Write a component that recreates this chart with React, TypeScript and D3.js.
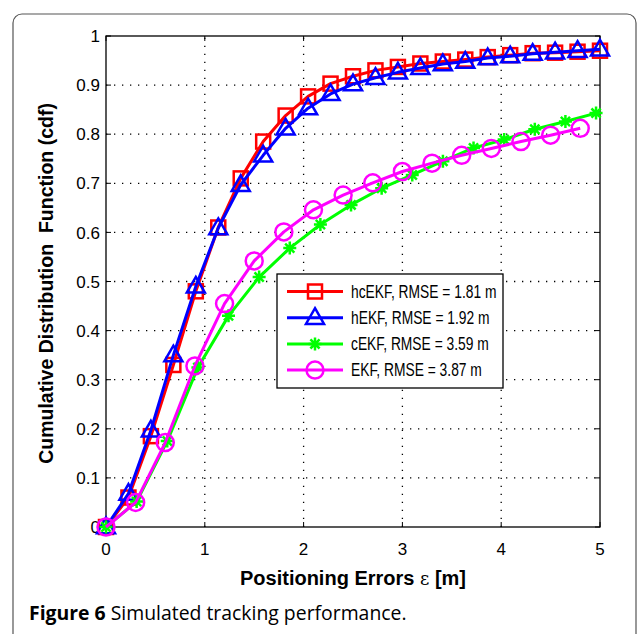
import React from 'react';
import * as d3 from 'd3';

// values
const redX = d3.range(23).map(i => (i * 5) / 22);
const hcEKF = [0, 0.06, 0.185, 0.33, 0.48, 0.61, 0.71, 0.785, 0.838, 0.877, 0.903, 0.918, 0.93, 0.937, 0.944, 0.948, 0.952, 0.957, 0.961, 0.965, 0.966, 0.968, 0.97];
const hEKF = [0, 0.068, 0.197, 0.35, 0.49, 0.609, 0.697, 0.757, 0.812, 0.853, 0.882, 0.902, 0.915, 0.926, 0.935, 0.943, 0.948, 0.955, 0.959, 0.964, 0.967, 0.97, 0.973];
const greenX = d3.range(17).map(i => i * 0.31);
const cEKF = [0, 0.052, 0.175, 0.325, 0.43, 0.509, 0.568, 0.616, 0.656, 0.69, 0.717, 0.745, 0.772, 0.789, 0.81, 0.826, 0.843];
const magentaX = d3.range(17).map(i => i * 0.3);
const EKF = [0, 0.05, 0.172, 0.328, 0.455, 0.542, 0.601, 0.646, 0.676, 0.701, 0.724, 0.741, 0.757, 0.771, 0.785, 0.798, 0.812];

const xTicks = [0, 1, 2, 3, 4, 5];
const yTicks = [0, 0.1, 0.2, 0.3, 0.4, 0.5, 0.6, 0.7, 0.8, 0.9, 1];
const legendLabels = ['hcEKF, RMSE = 1.81 m', 'hEKF, RMSE = 1.92 m', 'cEKF, RMSE = 3.59 m', 'EKF, RMSE = 3.87 m'];

const W = 637;
const H = 634;
const FONT = '"Liberation Sans", Arial, sans-serif';

const series = [
  { xs: redX, ys: hcEKF, color: '#ff0000', marker: 'square' },
  { xs: redX, ys: hEKF, color: '#0000ff', marker: 'triangle' },
  { xs: greenX, ys: cEKF, color: '#00ff00', marker: 'star' },
  { xs: magentaX, ys: EKF, color: '#ff00ff', marker: 'circle' },
];

function Marker({ type, x, y, color }: { type: string; x: number; y: number; color: string }) {
  if (type === 'square') {
    return <rect x={x - 7} y={y - 7} width={14} height={14} fill="none" stroke={color} strokeWidth={2.5} />;
  }
  if (type === 'triangle') {
    const r = 9.5;
    const pts = [[x, y - r], [x + r * 0.95, y + r * 0.65], [x - r * 0.95, y + r * 0.65]];
    return <polygon points={pts.map(p => p.join(',')).join(' ')} fill="none" stroke={color} strokeWidth={2.5} />;
  }
  if (type === 'circle') {
    return <circle cx={x} cy={y} r={8.5} fill="none" stroke={color} strokeWidth={2.5} />;
  }
  // asterisk: plus + cross
  const r = 6.5;
  const d = r * 0.707;
  return (
    <path
      d={`M${x - r},${y}L${x + r},${y}M${x},${y - r}L${x},${y + r}M${x - d},${y - d}L${x + d},${y + d}M${x - d},${y + d}L${x + d},${y - d}`}
      stroke={color}
      strokeWidth={2.5}
    />
  );
}

export default function App() {
  const x = d3.scaleLinear().domain([0, 5]).range([106, 600]);
  const y = d3.scaleLinear().domain([0, 1]).range([527, 36]);
  const line = d3.line<[number, number]>().x(d => x(d[0])).y(d => y(d[1]));

  const [x0, x1] = x.range();
  const [y0, y1] = y.range();

  const legX = 277;
  const legY = 274;
  const rowH = 26.2;

  return (
    <svg width={W} height={H} style={{ position: 'absolute', left: 0, top: 0, background: '#fff' }}>
      <rect x={13} y={14} width={623} height={700} rx={9} fill="none" stroke="#555" strokeWidth={1.2} />

      {/* grid */}
      <g stroke="#000" strokeWidth={1.3} strokeDasharray="1.3 6.7">
        {xTicks.slice(1, -1).map(t => (
          <line key={'gx' + t} x1={x(t)} x2={x(t)} y1={y0} y2={y1} />
        ))}
        {yTicks.slice(1, -1).map(t => (
          <line key={'gy' + t} x1={x0} x2={x1} y1={y(t)} y2={y(t)} />
        ))}
      </g>

      {/* ticks on all four sides */}
      <g stroke="#000" strokeWidth={1}>
        {xTicks.map(t => (
          <g key={'tx' + t}>
            <line x1={x(t)} x2={x(t)} y1={y0} y2={y0 - 5} />
            <line x1={x(t)} x2={x(t)} y1={y1} y2={y1 + 5} />
          </g>
        ))}
        {yTicks.map(t => (
          <g key={'ty' + t}>
            <line x1={x0} x2={x0 + 5} y1={y(t)} y2={y(t)} />
            <line x1={x1} x2={x1 - 5} y1={y(t)} y2={y(t)} />
          </g>
        ))}
      </g>

      <rect x={x0} y={y1} width={x1 - x0} height={y0 - y1} fill="none" stroke="#000" strokeWidth={1.3} />

      {/* tick labels */}
      <g fontFamily={FONT} fontSize={17} fill="#000">
        {xTicks.map(t => (
          <text key={'lx' + t} x={x(t)} y={555} textAnchor="middle">
            {d3.format('d')(t)}
          </text>
        ))}
        {yTicks.map(t => (
          <text key={'ly' + t} x={x0 - 6} y={y(t)} dy="0.36em" textAnchor="end">
            {t === 0 || t === 1 ? String(t) : d3.format('.1f')(t)}
          </text>
        ))}
      </g>

      {/* series */}
      {series.map((s, i) => {
        const pts = s.xs.map((v, j) => [v, s.ys[j]] as [number, number]);
        return (
          <g key={'s' + i}>
            <path d={line(pts) || ''} fill="none" stroke={s.color} strokeWidth={3} strokeLinejoin="round" />
            {pts.map((p, j) => (
              <Marker key={j} type={s.marker} x={x(p[0])} y={y(p[1])} color={s.color} />
            ))}
          </g>
        );
      })}

      {/* legend */}
      <rect x={legX} y={legY} width={226} height={114} fill="#fff" stroke="#000" strokeWidth={1.3} />
      {series.map((s, i) => {
        const cy = legY + 17.5 + i * rowH;
        return (
          <g key={'lg' + i}>
            <line x1={legX + 10} x2={legX + 66} y1={cy} y2={cy} stroke={s.color} strokeWidth={3} />
            <Marker type={s.marker} x={legX + 38} y={cy} color={s.color} />
            <text
              transform={`translate(${legX + 74},${cy}) scale(0.79,1)`}
              dy="0.36em"
              fontFamily={FONT}
              fontSize={17.5}
              fill="#000"
            >
              {legendLabels[i]}
            </text>
          </g>
        );
      })}

      {/* axis labels */}
      <text x={(x0 + x1) / 2} y={585} textAnchor="middle" fontFamily={FONT} fontSize={20} fontWeight="bold">
        Positioning Errors <tspan fontWeight="normal" fontFamily='"DejaVu Serif", serif' fontSize={18}>ε</tspan> [m]
      </text>
      <text
        transform={`translate(53,${(y0 + y1) / 2 + 2}) rotate(-90)`}
        textAnchor="middle"
        fontFamily={FONT}
        fontSize={19.5}
        fontWeight="bold"
        style={{ whiteSpace: 'pre' }}
      >
        {'Cumulative Distribution  Function (cdf)'}
      </text>

      {/* caption */}
      <text x={29} y={620} fontFamily='"Open Sans", "Noto Sans", sans-serif' fontSize={19.4} fill="#000">
        <tspan fontWeight="bold">Figure 6</tspan> Simulated tracking performance.
      </text>
    </svg>
  );
}
